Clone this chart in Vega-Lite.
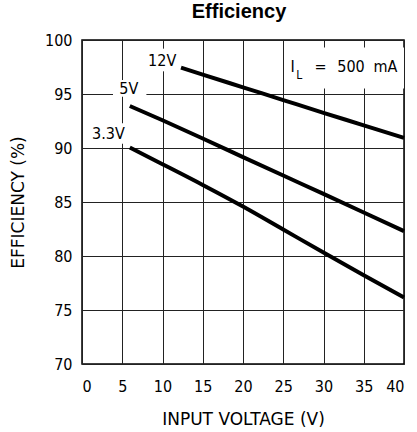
{
  "$schema": "https://vega.github.io/schema/vega-lite/v6.json",
  "width": 322,
  "height": 324,
  "autosize": "none",
  "padding": {"left": 82, "top": 40, "right": 13, "bottom": 68},
  "background": "white",
  "title": {"text": "Efficiency", "font": "Liberation Sans", "fontSize": 20, "fontWeight": "bold", "color": "black", "anchor": "middle", "offset": 10, "dx": -4},
  "config": {
    "view": {"stroke": "black", "strokeWidth": 1.5},
    "axis": {
      "grid": true, "gridColor": "#222", "gridWidth": 1, "gridOpacity": 1,
      "domain": false, "ticks": false,
      "labelFont": "DejaVu Sans Condensed", "labelFontSize": 16, "labelColor": "black",
      "titleFont": "DejaVu Sans", "titleFontSize": 17, "titleFontWeight": "normal", "titleColor": "black"
    }
  },
  "datasets": {
    "curves": [
      {"vin": 12.3, "eff": 97.45, "series": "12V"},
      {"vin": 15, "eff": 96.8, "series": "12V"},
      {"vin": 20, "eff": 95.62, "series": "12V"},
      {"vin": 25, "eff": 94.44, "series": "12V"},
      {"vin": 30, "eff": 93.26, "series": "12V"},
      {"vin": 35, "eff": 92.1, "series": "12V"},
      {"vin": 40, "eff": 90.93, "series": "12V"},
      {"vin": 5.94, "eff": 93.89, "series": "5V"},
      {"vin": 10, "eff": 92.57, "series": "5V"},
      {"vin": 15, "eff": 90.88, "series": "5V"},
      {"vin": 20, "eff": 89.16, "series": "5V"},
      {"vin": 25, "eff": 87.45, "series": "5V"},
      {"vin": 30, "eff": 85.75, "series": "5V"},
      {"vin": 35, "eff": 84.03, "series": "5V"},
      {"vin": 40, "eff": 82.3, "series": "5V"},
      {"vin": 5.94, "eff": 90.05, "series": "3.3V"},
      {"vin": 10, "eff": 88.5, "series": "3.3V"},
      {"vin": 15, "eff": 86.58, "series": "3.3V"},
      {"vin": 20, "eff": 84.58, "series": "3.3V"},
      {"vin": 25, "eff": 82.45, "series": "3.3V"},
      {"vin": 30, "eff": 80.32, "series": "3.3V"},
      {"vin": 35, "eff": 78.22, "series": "3.3V"},
      {"vin": 40, "eff": 76.15, "series": "3.3V"}
    ],
    "boxes": [
      {"x1": 8.1, "x2": 11.9, "y1": 97.1, "y2": 99.2},
      {"x1": 3.85, "x2": 8.0, "y1": 94.75, "y2": 96.3},
      {"x1": 0.8, "x2": 5.8, "y1": 90.4, "y2": 92.3},
      {"x1": 25.2, "x2": 40, "y1": 95.5, "y2": 99.3}
    ],
    "labels": [
      {"vin": 9.96, "eff": 98.1, "txt": "12V", "size": 16},
      {"vin": 5.82, "eff": 95.5, "txt": "5V", "size": 16},
      {"vin": 3.28, "eff": 91.33, "txt": "3.3V", "size": 16},
      {"vin": 26.17, "eff": 97.5, "txt": "I", "size": 16},
      {"vin": 27.0, "eff": 96.78, "txt": "L", "size": 12},
      {"vin": 29.64, "eff": 97.5, "txt": "=", "size": 16},
      {"vin": 33.42, "eff": 97.5, "txt": "500", "size": 16},
      {"vin": 37.7, "eff": 97.5, "txt": "mA", "size": 16}
    ]
  },
  "layer": [
    {
      "data": {"name": "boxes"},
      "mark": {"type": "rect", "fill": "white", "stroke": null},
      "encoding": {
        "x": {"field": "x1", "type": "quantitative", "scale": {"domain": [0, 40]}, "axis": {"values": [0,5,10,15,20,25,30,35,40], "labelPadding": 14, "title": "INPUT VOLTAGE (V)", "titlePadding": 17}},
        "x2": {"field": "x2"},
        "y": {"field": "y1", "type": "quantitative", "scale": {"domain": [70, 100]}, "axis": {"values": [70,75,80,85,90,95,100], "labelPadding": 10, "title": "EFFICIENCY (%)", "titlePadding": 17}},
        "y2": {"field": "y2"}
      }
    },
    {
      "data": {"name": "curves"},
      "mark": {"type": "line", "color": "black", "strokeWidth": 4, "interpolate": "monotone"},
      "encoding": {
        "x": {"field": "vin", "type": "quantitative"},
        "y": {"field": "eff", "type": "quantitative"},
        "detail": {"field": "series"}
      }
    },
    {
      "data": {"name": "labels"},
      "mark": {"type": "text", "font": "DejaVu Sans Condensed", "color": "black", "align": "center", "baseline": "middle"},
      "encoding": {
        "x": {"field": "vin", "type": "quantitative"},
        "y": {"field": "eff", "type": "quantitative"},
        "text": {"field": "txt"},
        "size": {"field": "size", "type": "quantitative", "scale": null}
      }
    }
  ]
}
